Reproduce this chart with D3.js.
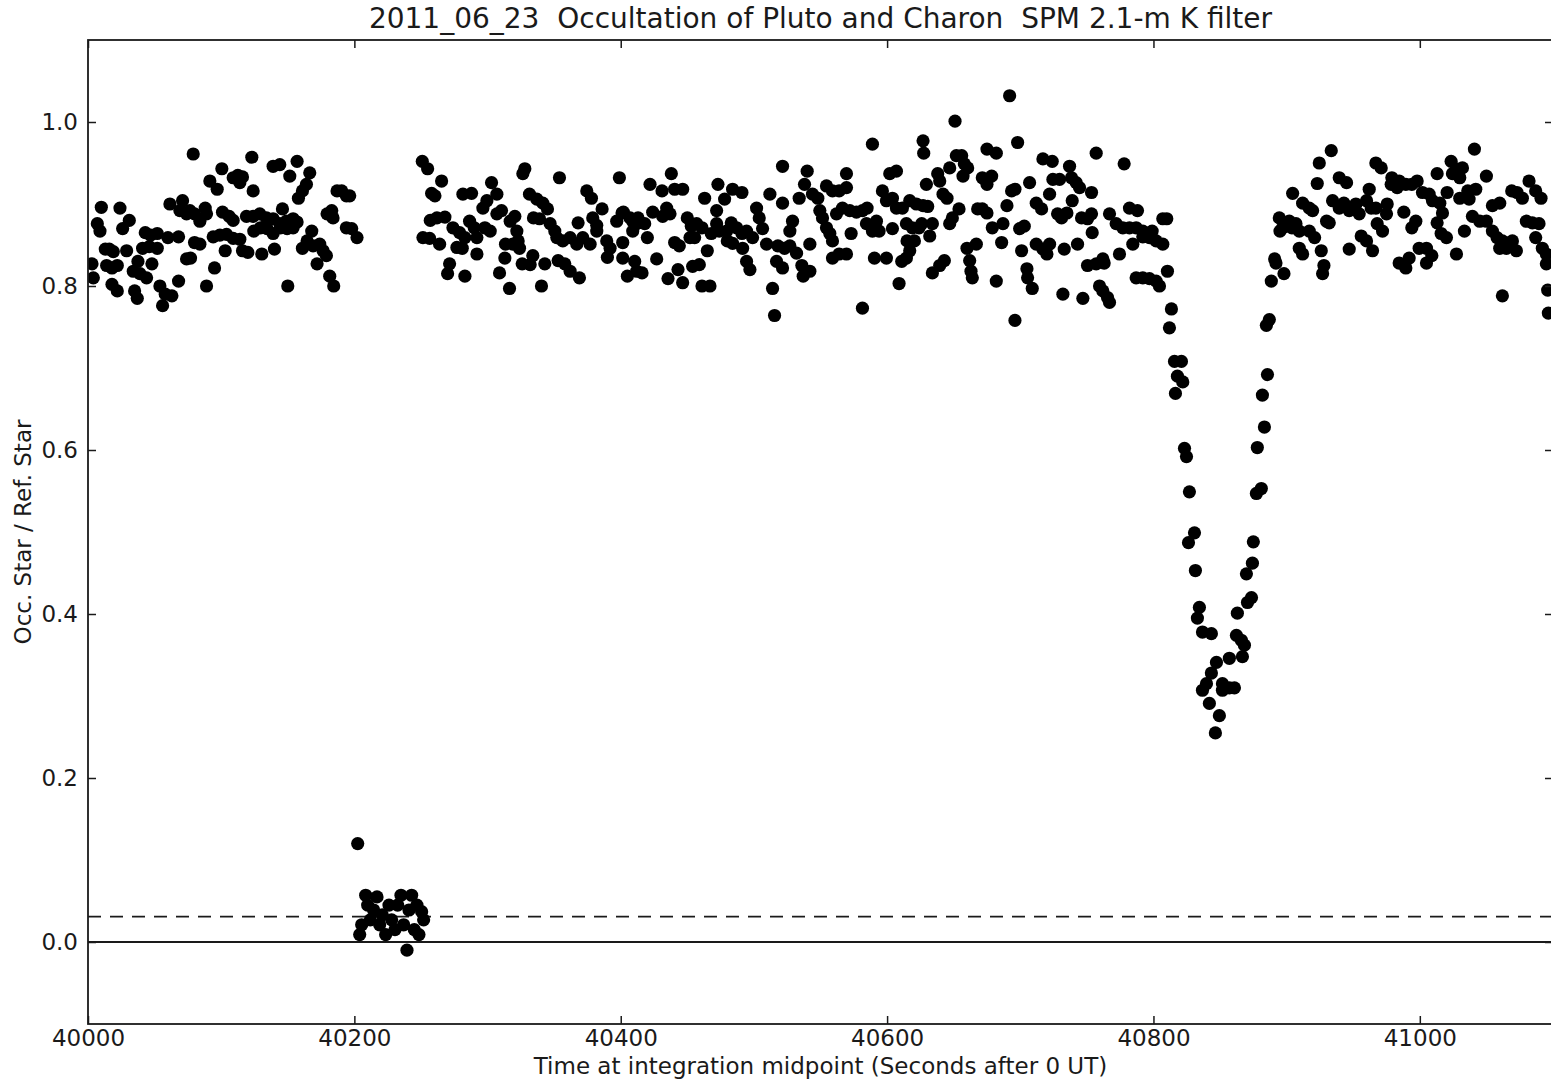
<!DOCTYPE html>
<html>
<head>
<meta charset="utf-8">
<script src="https://cdn.jsdelivr.net/npm/d3@7"></script>
<style>
  body { margin: 0; background: #fff; }
  text { font-family: "DejaVu Sans", sans-serif; }
</style>
</head>
<body>
<div id="wrapper"></div>
<script>
// ---- data: [time (s after 0 UT), occ. star / ref. star] ----
const beforeOccultation = [
  [40003,0.827],[40004,0.81],[40007,0.876],[40009,0.867],[40010,0.896],[40013,0.845],[40014,0.825],[40016,0.845],
  [40018,0.822],[40018,0.802],[40019,0.842],[40022,0.825],[40022,0.794],[40024,0.895],[40026,0.87],[40029,0.843],
  [40031,0.88],[40034,0.818],[40035,0.794],[40037,0.785],[40037.5,0.83],[40039,0.815],[40041,0.846],[40043,0.865],
  [40044,0.81],[40046,0.848],[40047,0.862],[40048,0.827],[40052,0.864],[40052,0.846],[40054,0.80],[40056,0.776],
  [40058,0.79],[40060,0.859],[40061.5,0.90],[40063,0.788],[40068,0.86],[40068,0.806],[40069,0.892],[40071,0.904],
  [40074,0.888],[40074,0.833],[40076.5,0.892],[40077,0.834],[40079,0.961],[40080,0.888],[40080,0.853],[40084,0.879],
  [40084,0.851],[40088,0.895],[40089,0.888],[40089,0.80],[40091.5,0.928],[40094,0.86],[40095,0.822],[40097,0.918],
  [40099,0.862],[40100.5,0.943],[40101,0.89],[40103,0.843],[40104,0.863],[40106,0.885],[40109,0.88],[40109,0.932],
  [40109,0.858],[40112.5,0.935],[40114,0.926],[40114,0.857],[40116,0.933],[40116,0.843],[40119,0.885],[40120,0.841],
  [40123,0.957],[40124,0.916],[40124,0.885],[40124.5,0.867],[40129,0.888],[40129.5,0.871],[40130.5,0.839],[40134,0.883],
  [40134.5,0.87],[40139,0.882],[40139,0.864],[40139,0.946],[40140,0.845],[40144,0.876],[40144,0.948],[40144.5,0.871],
  [40146,0.894],[40149,0.879],[40149.5,0.87],[40150,0.80],[40151.5,0.934],[40154,0.882],[40154,0.871],[40157,0.878],
  [40157,0.952],[40158,0.907],[40161,0.916],[40161,0.846],[40164,0.924],[40164.5,0.855],[40166.5,0.938],[40168,0.867],
  [40169,0.849],[40172,0.827],[40174,0.851],[40176.5,0.843],[40179,0.837],[40179.5,0.888],[40181.5,0.812],[40183,0.892],
  [40184,0.883],[40184.5,0.80],[40187,0.916],[40190.5,0.916],[40194,0.91],[40194,0.871],[40196.5,0.91],[40198,0.87],
  [40202,0.859]
]

const occulted = [
  [40202.5,0.12],[40204,0.009],[40205.5,0.021],[40208.5,0.057],[40210,0.045],[40212,0.027],[40214.5,0.039],
  [40217,0.055],[40219,0.021],[40221,0.033],[40223.5,0.009],[40226,0.045],[40228,0.027],[40230.5,0.015],
  [40232.5,0.045],[40235,0.057],[40237,0.021],[40239.5,-0.01],[40241,0.039],[40243,0.057],[40245,0.015],
  [40247,0.045],[40248.5,0.009],[40250.5,0.037],[40252,0.027]
]

const betweenEvents = [
  [40251,0.952],[40255,0.943],[40265.5,0.928],[40258,0.913],[40260.5,0.91],[40257,0.88],[40262,0.883],[40268,0.884],
  [40251.5,0.859],[40256.5,0.858],[40264,0.851],[40271.5,0.827],[40270,0.815],[40274,0.871],[40279,0.865],[40283,0.859],
  [40277,0.847],[40281,0.846],[40281.5,0.912],[40288,0.913],[40283,0.812],[40286.5,0.879],[40290,0.871],[40292,0.859],
  [40292,0.839],[40296.5,0.895],[40299.5,0.904],[40303,0.926],[40307,0.912],[40298,0.871],[40302,0.867],[40307,0.888],
  [40310.5,0.892],[40309,0.816],[40313,0.834],[40313.5,0.851],[40316.5,0.797],[40317,0.879],[40320.5,0.885],[40322,0.867],
  [40319,0.851],[40323,0.855],[40324,0.846],[40326.5,0.937],[40328,0.943],[40326,0.827],[40332,0.826],[40334,0.837],
  [40331.5,0.912],[40337,0.906],[40341.5,0.901],[40345,0.894],[40334.5,0.883],[40339,0.882],[40340.5,0.80],[40343,0.827],
  [40347,0.876],[40350.5,0.867],[40352,0.859],[40356.5,0.855],[40362,0.859],[40367,0.851],[40354,0.932],[40353,0.831],
  [40358,0.827],[40362,0.818],[40369,0.81],[40368,0.877],[40374.5,0.916],[40378,0.907],[40371.5,0.859],[40377,0.851],
  [40382,0.867],[40386,0.894],[40389.5,0.855],[40392,0.846],[40397,0.879],[40401,0.889],[40407,0.883],[40409,0.867],
  [40412,0.876],[40379,0.883],[40382,0.874],[40390,0.835],[40399,0.932],[40401.5,0.834],[40405,0.812],[40412,0.818],
  [40401.5,0.853],[40402,0.89],[40409,0.879],[40413,0.883],[40410.5,0.83],[40416,0.816],[40418,0.876],[40420,0.859],
  [40422,0.924],[40424,0.89],[40427,0.833],[40431,0.916],[40431.5,0.885],[40434.5,0.895],[40437,0.888],[40435.5,0.809],
  [40438,0.937],[40440.5,0.918],[40446.5,0.918],[40440.5,0.853],[40444,0.849],[40443,0.82],[40446.5,0.804],[40450,0.883],
  [40453,0.873],[40457,0.876],[40461,0.871],[40452,0.859],[40455.5,0.859],[40454,0.824],[40459,0.826],[40461,0.80],
  [40467,0.80],[40463,0.907],[40465,0.843],[40468,0.864],[40472,0.876],[40474,0.867],[40479.5,0.867],[40483,0.877],
  [40487,0.871],[40491,0.864],[40494.5,0.867],[40473,0.924],[40472,0.892],[40478,0.906],[40484,0.918],[40491,0.914],
  [40480,0.855],[40484,0.852],[40491.5,0.846],[40494.5,0.83],[40497,0.82],[40499,0.859],[40502,0.895],[40504,0.883],
  [40506.5,0.87],[40509.5,0.851],[40512,0.912],[40514,0.797],[40515.5,0.764],[40517,0.83],[40521.5,0.822],[40518,0.849],
  [40523,0.846],[40527,0.849],[40532,0.84],[40521.5,0.946],[40521.5,0.901],[40527,0.867],[40529,0.879],[40534,0.907],
  [40536,0.825],[40537,0.812],[40542,0.818],[40538,0.924],[40540,0.94],[40542,0.851],[40544,0.912],[40548,0.907],
  [40549.5,0.892],[40551.5,0.883],[40554.5,0.871],[40557,0.864],[40559,0.855],[40554.5,0.922],[40559,0.916],[40564,0.916],
  [40569.5,0.92],[40559,0.834],[40564,0.839],[40569.5,0.839],[40562,0.888],[40566.5,0.895],[40572,0.892],[40577,0.89],
  [40581.5,0.892],[40585,0.895],[40569.5,0.937],[40573,0.864],[40581.5,0.773],[40584.5,0.876],[40589,0.867],[40594,0.867],
  [40589,0.973],[40590.5,0.834],[40599.5,0.834],[40592,0.879],[40596.5,0.916],[40599.5,0.904],[40604,0.907],[40607,0.895],
  [40602,0.937],[40607,0.94],[40604,0.87],[40609,0.803],[40611.5,0.895],[40614.5,0.876],[40614.5,0.834],[40615,0.855],
  [40617,0.904],[40622,0.9],[40627,0.898],[40630.5,0.897],[40619,0.871],[40624,0.871],[40626,0.876],[40611,0.83],
  [40617,0.843],[40620.5,0.855],[40632,0.861],[40634,0.876],[40627,0.977],[40627.5,0.962],[40629.5,0.924],[40638,0.937],
  [40639.5,0.928],[40634,0.816],[40639.5,0.825],[40643,0.831],[40642,0.912],[40645,0.907],[40647,0.876],[40649,0.883],
  [40654,0.894],[40647,0.944],[40652,0.959],[40656,0.959],[40658,0.949],[40660.5,0.944],[40657,0.934],[40651,1.001],
  [40660,0.846],[40662,0.831],[40663,0.818],[40664,0.81],[40667,0.851],[40668,0.894],[40671.5,0.894],[40675,0.889],
  [40671.5,0.932],[40675,0.924],[40678.5,0.934],[40675,0.967],[40682,0.962],[40679,0.871],[40687,0.876],[40690,0.898],
  [40693.5,0.916],[40696,0.918],[40699.5,0.87],[40703,0.873],[40682,0.806],[40686,0.853],[40692,1.032],[40698,0.975],
  [40696,0.758],[40701,0.843],[40705,0.821],[40705.5,0.81],[40709,0.797],[40707,0.926],[40712,0.901],[40716,0.894],
  [40712,0.851],[40717,0.845],[40720,0.839],[40717,0.955],[40724,0.952],[40722,0.912],[40724.5,0.93],[40729.5,0.93],
  [40722,0.851],[40728,0.888],[40731,0.883],[40735,0.889],[40732,0.79],[40733,0.845],[40737,0.946],[40738.5,0.932],
  [40742,0.926],[40744.5,0.92],[40739,0.904],[40743,0.851],[40746,0.883],[40750.5,0.882],[40753.5,0.888],[40747,0.785],
  [40750.5,0.825],[40757,0.827],[40762,0.833],[40763,0.828],[40753.5,0.914],[40754,0.865],[40757,0.962],[40759.5,0.80],
  [40762,0.794],[40765.5,0.786],[40767,0.78],[40767,0.888],[40772,0.876],[40777,0.871],[40782,0.871],[40787,0.871],
  [40792,0.867],[40797,0.859],[40802,0.855],[40807,0.851],[40774.5,0.839],[40778,0.949],[40782,0.895],[40788,0.892],
  [40787,0.81],[40792,0.81],[40797,0.809],[40802,0.806],[40804.5,0.80],[40784.5,0.851],[40792,0.86],[40799,0.867],
  [40807,0.882],[40810,0.882],[40810.5,0.818]
]

const dipIngress = [
  [40813.5,0.772],[40812,0.749],[40815.8,0.708],[40821,0.708],[40818,0.69],[40822,0.683],[40816.5,0.669],
  [40823.3,0.602],[40824.8,0.592],[40827,0.549],[40830.8,0.499],[40826.3,0.487],[40831.5,0.453],[40834.5,0.408],
  [40833,0.395],[40836.8,0.378],[40843.5,0.376],[40847.3,0.341],[40857,0.346],[40843.5,0.328],[40839.8,0.315],
  [40836.8,0.307],[40851.8,0.315],[40857,0.31],[40860.8,0.31],[40851.8,0.307],[40842,0.291],[40849.5,0.276],
  [40846.5,0.255]
]

const dipEgress = [
  [40862.3,0.374],[40866,0.368],[40868.3,0.362],[40866.8,0.348],[40863,0.401],[40870.6,0.414],[40873.6,0.42],
  [40869.8,0.449],[40874.3,0.462],[40875,0.488],[40877.3,0.547],[40881,0.553],[40878,0.603],[40883.3,0.628],
  [40881.8,0.667],[40885.6,0.692],[40884.8,0.752],[40887,0.759],[40888.5,0.806],[40891,0.833]
]

const afterDip = [
  [40892,0.828],[40898,0.815],[40894.5,0.883],[40895,0.867],[40897,0.871],[40902,0.879],[40904,0.871],[40907,0.876],
  [40909.5,0.867],[40904.5,0.913],[40909.5,0.846],[40912,0.839],[40912,0.901],[40917,0.895],[40919.5,0.892],[40917,0.867],
  [40921,0.859],[40923,0.925],[40924.5,0.95],[40926,0.843],[40928,0.825],[40927,0.815],[40930,0.879],[40932,0.877],
  [40933.5,0.965],[40934.5,0.904],[40939.5,0.895],[40943,0.901],[40947,0.892],[40952,0.9],[40954.5,0.888],[40960,0.904],
  [40963.5,0.895],[40967,0.895],[40939.5,0.932],[40945,0.926],[40947,0.845],[40956,0.861],[40960,0.855],[40962,0.918],
  [40964.5,0.843],[40967,0.95],[40971,0.944],[40968,0.876],[40972,0.867],[40975,0.888],[40975.5,0.9],[40979,0.932],
  [40984.5,0.928],[40989.5,0.924],[40994,0.924],[40998,0.928],[40978.5,0.924],[40983,0.92],[40984.5,0.828],[40989.5,0.822],
  [40992,0.834],[40988,0.89],[40994,0.871],[40997,0.879],[40999.5,0.846],[41005,0.846],[41005,0.828],[41009,0.837],
  [41002,0.914],[41007,0.912],[41009.5,0.904],[41015,0.901],[41017,0.889],[41020.5,0.914],[41023.5,0.952],[41024.5,0.937],
  [41013,0.937],[41013,0.877],[41016,0.864],[41020,0.859],[41027.5,0.839],[41027.5,0.943],[41032,0.944],[41030,0.932],
  [41030,0.907],[41036,0.916],[41037,0.906],[41042,0.918],[41050,0.934],[41033.5,0.867],[41041,0.967],[41039.5,0.885],
  [41045,0.879],[41050,0.879],[41054.5,0.867],[41058,0.859],[41062,0.855],[41065,0.846],[41069.5,0.855],[41072.5,0.843],
  [41054.5,0.898],[41060,0.901],[41060,0.846],[41062,0.788],[41069,0.916],[41073,0.914],[41077,0.907],[41082,0.928],
  [41087,0.916],[41091,0.907],[41080,0.879],[41084.5,0.877],[41089.5,0.876],[41087,0.859],[41092,0.846],[41095,0.839],
  [41095,0.827],[41096,0.795],[41096.5,0.767]
]

const zeroLevel = 0.0
const skyLevel = 0.031

const xTicks = [40000, 40200, 40400, 40600, 40800, 41000]
const yTicks = [0.0, 0.2, 0.4, 0.6, 0.8, 1.0]
const xDomain = [40000, 41100]
const yDomain = [-0.1, 1.1]

const titleText = "2011_06_23  Occultation of Pluto and Charon  SPM 2.1-m K filter"
const xLabel = "Time at integration midpoint (Seconds after 0 UT)"
const yLabel = "Occ. Star / Ref. Star"

function drawChart() {
  const dataset = [].concat(beforeOccultation, occulted, betweenEvents, dipIngress, dipEgress, afterDip)
  const xAccessor = d => d[0]
  const yAccessor = d => d[1]

  // dimensions
  let dimensions = {
    width: 1551,
    height: 1081,
    margin: { top: 40, right: -2, bottom: 57, left: 88 },
  }
  dimensions.boundedWidth = dimensions.width - dimensions.margin.left - dimensions.margin.right
  dimensions.boundedHeight = dimensions.height - dimensions.margin.top - dimensions.margin.bottom

  const wrapper = d3.select("#wrapper")
    .append("svg")
      .attr("width", dimensions.width)
      .attr("height", dimensions.height)
      .style("display", "block")
      .style("overflow", "hidden")

  const bounds = wrapper.append("g")
      .attr("transform", `translate(${dimensions.margin.left},${dimensions.margin.top})`)

  wrapper.append("defs").append("clipPath")
      .attr("id", "plot-clip")
    .append("rect")
      .attr("width", dimensions.boundedWidth)
      .attr("height", dimensions.boundedHeight)

  // scales
  const xScale = d3.scaleLinear().domain(xDomain).range([0, dimensions.boundedWidth])
  const yScale = d3.scaleLinear().domain(yDomain).range([dimensions.boundedHeight, 0])

  const plot = bounds.append("g").attr("clip-path", "url(#plot-clip)")

  // reference lines
  plot.append("line")
      .attr("x1", 0).attr("x2", dimensions.boundedWidth)
      .attr("y1", yScale(zeroLevel)).attr("y2", yScale(zeroLevel))
      .attr("stroke", "#1a1a1a").attr("stroke-width", 1.8)
  plot.append("line")
      .attr("x1", 0).attr("x2", dimensions.boundedWidth)
      .attr("y1", yScale(skyLevel)).attr("y2", yScale(skyLevel))
      .attr("stroke", "#1a1a1a").attr("stroke-width", 1.8)
      .attr("stroke-dasharray", "13,9")

  // points
  plot.selectAll("circle")
    .data(dataset)
    .join("circle")
      .attr("cx", d => xScale(xAccessor(d)))
      .attr("cy", d => yScale(yAccessor(d)))
      .attr("r", 6.6)
      .attr("fill", "#000")

  // axes (inward ticks on all sides)
  const styleAxis = g => {
    g.select(".domain").remove()
    g.attr("font-family", "DejaVu Sans, sans-serif").attr("font-size", 23)
    g.selectAll(".tick line").attr("stroke", "#1a1a1a").attr("stroke-width", 1.5)
    g.selectAll(".tick text").attr("fill", "#1a1a1a")
  }

  bounds.append("g")
      .attr("transform", `translate(0,${dimensions.boundedHeight})`)
      .call(d3.axisBottom(xScale).tickValues(xTicks).tickFormat(d3.format("d"))
        .tickSizeInner(-8).tickSizeOuter(0).tickPadding(6))
      .call(styleAxis)
  bounds.append("g")
      .call(d3.axisTop(xScale).tickValues(xTicks).tickFormat("")
        .tickSizeInner(-8).tickSizeOuter(0))
      .call(styleAxis)
  bounds.append("g")
      .call(d3.axisLeft(yScale).tickValues(yTicks).tickFormat(d3.format(".1f"))
        .tickSizeInner(-8).tickSizeOuter(0).tickPadding(10))
      .call(styleAxis)
  bounds.append("g")
      .attr("transform", `translate(${dimensions.boundedWidth},0)`)
      .call(d3.axisRight(yScale).tickValues(yTicks).tickFormat("")
        .tickSizeInner(-8).tickSizeOuter(0))
      .call(styleAxis)

  // frame
  bounds.append("rect")
      .attr("width", dimensions.boundedWidth)
      .attr("height", dimensions.boundedHeight)
      .attr("fill", "none")
      .attr("stroke", "#1a1a1a")
      .attr("stroke-width", 1.8)

  // labels
  wrapper.append("text")
      .attr("x", dimensions.margin.left + dimensions.boundedWidth / 2)
      .attr("y", 28)
      .attr("text-anchor", "middle")
      .attr("font-size", 28)
      .attr("fill", "#1a1a1a")
      .style("white-space", "pre")
      .text(titleText)

  wrapper.append("text")
      .attr("x", dimensions.margin.left + dimensions.boundedWidth / 2)
      .attr("y", 1074)
      .attr("text-anchor", "middle")
      .attr("font-size", 23)
      .attr("fill", "#1a1a1a")
      .text(xLabel)

  wrapper.append("text")
      .attr("transform", `translate(31,${dimensions.margin.top + dimensions.boundedHeight / 2}) rotate(-90)`)
      .attr("text-anchor", "middle")
      .attr("font-size", 23)
      .attr("fill", "#1a1a1a")
      .text(yLabel)
}

drawChart()
</script>
</body>
</html>
